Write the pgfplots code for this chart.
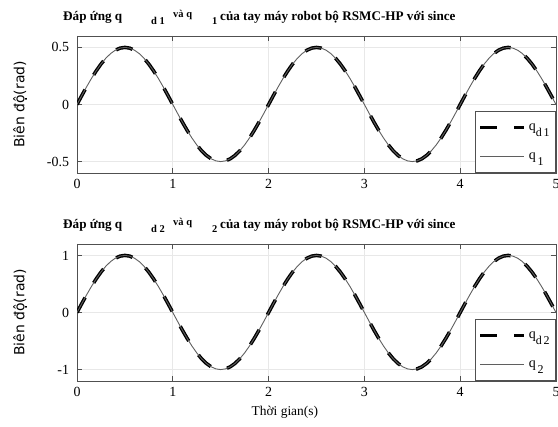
\documentclass[border=0pt]{standalone}
\usepackage{fontspec}
\setmainfont{Liberation Serif}
\newfontfamily\sansf{DejaVu Sans}
\usepackage{pgfplots}
\usepackage{pgfplotstable}
\pgfplotsset{compat=1.18}

\pgfplotstableread{
t a b
0.00 0 0
0.05 0.0782 0.1564
0.10 0.1545 0.3090
0.15 0.2270 0.4540
0.20 0.2939 0.5878
0.25 0.3536 0.7071
0.30 0.4045 0.8090
0.35 0.4455 0.8910
0.40 0.4755 0.9511
0.45 0.4938 0.9877
0.50 0.5 1
0.55 0.4938 0.9877
0.60 0.4755 0.9511
0.65 0.4455 0.8910
0.70 0.4045 0.8090
0.75 0.3536 0.7071
0.80 0.2939 0.5878
0.85 0.2270 0.4540
0.90 0.1545 0.3090
0.95 0.0782 0.1564
1.00 0 0
1.05 -0.0782 -0.1564
1.10 -0.1545 -0.3090
1.15 -0.2270 -0.4540
1.20 -0.2939 -0.5878
1.25 -0.3536 -0.7071
1.30 -0.4045 -0.8090
1.35 -0.4455 -0.8910
1.40 -0.4755 -0.9511
1.45 -0.4938 -0.9877
1.50 -0.5 -1
1.55 -0.4938 -0.9877
1.60 -0.4755 -0.9511
1.65 -0.4455 -0.8910
1.70 -0.4045 -0.8090
1.75 -0.3536 -0.7071
1.80 -0.2939 -0.5878
1.85 -0.2270 -0.4540
1.90 -0.1545 -0.3090
1.95 -0.0782 -0.1564
2.00 0 0
2.05 0.0782 0.1564
2.10 0.1545 0.3090
2.15 0.2270 0.4540
2.20 0.2939 0.5878
2.25 0.3536 0.7071
2.30 0.4045 0.8090
2.35 0.4455 0.8910
2.40 0.4755 0.9511
2.45 0.4938 0.9877
2.50 0.5 1
2.55 0.4938 0.9877
2.60 0.4755 0.9511
2.65 0.4455 0.8910
2.70 0.4045 0.8090
2.75 0.3536 0.7071
2.80 0.2939 0.5878
2.85 0.2270 0.4540
2.90 0.1545 0.3090
2.95 0.0782 0.1564
3.00 0 0
3.05 -0.0782 -0.1564
3.10 -0.1545 -0.3090
3.15 -0.2270 -0.4540
3.20 -0.2939 -0.5878
3.25 -0.3536 -0.7071
3.30 -0.4045 -0.8090
3.35 -0.4455 -0.8910
3.40 -0.4755 -0.9511
3.45 -0.4938 -0.9877
3.50 -0.5 -1
3.55 -0.4938 -0.9877
3.60 -0.4755 -0.9511
3.65 -0.4455 -0.8910
3.70 -0.4045 -0.8090
3.75 -0.3536 -0.7071
3.80 -0.2939 -0.5878
3.85 -0.2270 -0.4540
3.90 -0.1545 -0.3090
3.95 -0.0782 -0.1564
4.00 0 0
4.05 0.0782 0.1564
4.10 0.1545 0.3090
4.15 0.2270 0.4540
4.20 0.2939 0.5878
4.25 0.3536 0.7071
4.30 0.4045 0.8090
4.35 0.4455 0.8910
4.40 0.4755 0.9511
4.45 0.4938 0.9877
4.50 0.5 1
4.55 0.4938 0.9877
4.60 0.4755 0.9511
4.65 0.4455 0.8910
4.70 0.4045 0.8090
4.75 0.3536 0.7071
4.80 0.2939 0.5878
4.85 0.2270 0.4540
4.90 0.1545 0.3090
4.95 0.0782 0.1564
5.00 0 0
}\datatab

\definecolor{frame}{RGB}{80,80,80}
\definecolor{curve}{RGB}{95,95,95}

\newcommand{\sub}[1]{\raisebox{-4bp}{\fontsize{10.5}{12}\selectfont #1}}
\newcommand{\sups}[1]{\raisebox{3bp}{\fontsize{10.5}{12}\selectfont #1}}
\newcommand{\ttl}[1]{\makebox[88bp][l]{Đáp ứng q}\makebox[22bp][l]{\sub{d #1}}\makebox[39bp][l]{\sups{và q}}\makebox[8bp][l]{\sub{#1}}của tay máy robot bộ RSMC-HP với since}

\pgfplotsset{
  common/.style={
    scale only axis, width=479bp, height=137bp,
    xmin=0, xmax=5, xtick={0,1,2,3,4,5},
    xticklabels={0,1,2,3,4,5},
    axis line style={frame, line width=0.7bp},
    tick style={frame, line width=0.6bp},
    tick align=inside, major tick length=5bp,
    grid=major, major grid style={gray!18, line width=0.6bp},
    every tick label/.append style={font=\fontsize{14}{16}\selectfont},
    xticklabel style={yshift=-2.5bp},
    yticklabel style={xshift=-4.5bp},
    every axis title shift=0pt,
    title style={at={(axis description cs:-0.0292,1.11)}, anchor=base west,
      font=\bfseries\fontsize{13.2}{15}\selectfont, inner sep=0pt},
    ylabel style={at={(axis description cs:-0.119,0.5)}, anchor=center,
      font=\sansf\fontsize{14}{16}\selectfont},
    legend style={at={(1,0)}, anchor=south east, draw=frame, line width=0.6bp,
      fill=white, inner xsep=3bp, inner ysep=1.5bp, row sep=0bp,
      nodes={minimum height=29bp, inner xsep=3bp, inner ysep=0bp},
      font=\fontsize{14}{16}\selectfont, legend cell align=left},
    legend image code/.code={\draw[##1] (0bp,0bp) -- (44bp,0bp);},
  },
  qd/.style={black, line width=3.5bp, dash pattern=on 17bp off 17bp},
  qq/.style={curve, line width=0.9bp, solid},
}

\begin{document}
\begin{tikzpicture}
\useasboundingbox (0,0) rectangle (558bp,427bp);
\begin{axis}[common, at={(77bp,254bp)}, anchor=south west,
  ymin=-0.6, ymax=0.6, ytick={-0.5,0,0.5}, yticklabels={-0.5,0,0.5},
  title={\ttl{1}},
  ylabel={Biên độ(rad)}]
\addplot[qd] table[x=t, y=a] {\datatab};
\addlegendentry{q\raisebox{-6bp}{\fontsize{12}{13}\selectfont d\,1}}
\addplot[qq] table[x=t, y=a] {\datatab};
\addlegendentry{q\raisebox{-6bp}{\fontsize{12}{13}\selectfont\,1}}
\end{axis}
\begin{axis}[common, at={(77bp,46bp)}, anchor=south west,
  ymin=-1.2, ymax=1.2, ytick={-1,0,1}, yticklabels={-1,0,1},
  title={\ttl{2}},
  ylabel={Biên độ(rad)},
  xlabel={Thời gian(s)},
  xlabel style={at={(axis description cs:0.434,-0.226)}, anchor=center,
    font=\fontsize{13.5}{15}\selectfont}]
\addplot[qd] table[x=t, y=b] {\datatab};
\addlegendentry{q\raisebox{-6bp}{\fontsize{12}{13}\selectfont d\,2}}
\addplot[qq] table[x=t, y=b] {\datatab};
\addlegendentry{q\raisebox{-6bp}{\fontsize{12}{13}\selectfont\,2}}
\end{axis}
\end{tikzpicture}
\end{document}
